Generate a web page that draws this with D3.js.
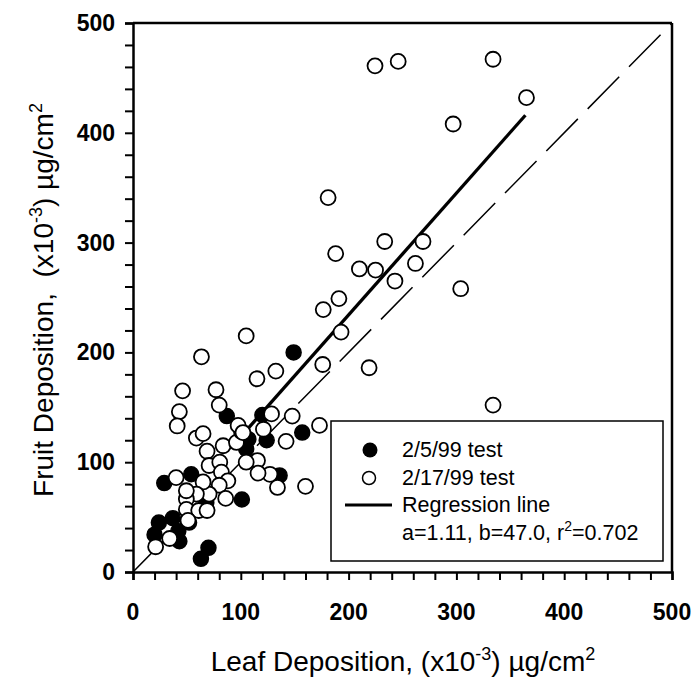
<!DOCTYPE html>
<html>
<head>
<meta charset="utf-8">
<script src="https://cdn.jsdelivr.net/npm/d3@7"></script>
<style>
  html, body { margin: 0; padding: 0; background: #fff; }
  svg text { font-family: "Liberation Sans", Arial, sans-serif; fill: #000; }
</style>
</head>
<body>
<svg id="chart" width="700" height="680"></svg>
<script>
// ---- data (leaf deposition x, fruit deposition y) ----
const test0205 = [
  [149,200],[87,142],[120,143],[157,127],[124,120],[107,121],[105,112],
  [54,89],[29,81],[136,88],[101,66],[24,45],[37,49],[20,34],[42,37],
  [43,28],[70,22],[63,12],[68,63],[52,45]
];
const test0217 = [
  [224.5,461],[246,465],[334,467],[365,432],[297,408],
  [181,341],[188,290],[233.5,301],[269,301],[210,276],[225,275],[262,281],
  [243,265],[304,258],[191,249],[176.5,239],[193,218.5],[176,189],[219,186],
  [334,152],[173,133.5],
  [105,215],[63.5,196],[46,165],[115,176],[132.5,183],[77,166],[43,146],
  [41,133],[80,152],[128.5,144],[147.7,142],[142,119],[160,78],[134,77],
  [127,89],[115.5,101.5],[116,90],[105,100],[121,130],[58.8,122],[68.7,110],
  [83.6,115],[96,118],[100.6,128],[97.5,133.5],[65,126],[102,127],
  [70.6,97],[80.5,100],[82,91],[88,83],[80,79],[70.6,71],[86,67],[65,82],
  [58.8,71],[49.5,66.5],[40,86],[49.5,74],[49.5,57],[61,56],[68.7,56],
  [51,47],[34,30.5],[21,23]
];
const regressionLine = [[107,131],[364,416]];
const oneToOneLine = [[0,0],[500,500]];
const xTicks = [0,100,200,300,400,500];
const yTicks = [0,100,200,300,400,500];
const legendItems = ["2/5/99 test","2/17/99 test","Regression line"];
const regressionText = "a=1.11, b=47.0, r";
const regressionText2 = "=0.702";

// ---- drawing ----
const svg = d3.select("#chart");
const x = d3.scaleLinear().domain([0,500]).range([133,672]);
const y = d3.scaleLinear().domain([0,500]).range([572,23]);

// 1:1 dashed line
const line = d3.line().x(d => x(d[0])).y(d => y(d[1]));
svg.append("path").datum(oneToOneLine).attr("d", line)
  .attr("fill","none").attr("stroke","#000").attr("stroke-width",1.5)
  .attr("stroke-dasharray","45,14");

// regression line
svg.append("path").datum(regressionLine).attr("d", line)
  .attr("fill","none").attr("stroke","#000").attr("stroke-width",3.3);

// points
svg.append("g").selectAll("circle").data(test0205).join("circle")
  .attr("cx", d => x(d[0])).attr("cy", d => y(d[1])).attr("r", 7.5)
  .attr("fill","#000").attr("stroke","#000").attr("stroke-width",1.5);
svg.append("g").selectAll("circle").data(test0217).join("circle")
  .attr("cx", d => x(d[0])).attr("cy", d => y(d[1])).attr("r", 7.5)
  .attr("fill","#fff").attr("stroke","#000").attr("stroke-width",1.8);

// axes
const minor = d3.range(0,501,20);
const xAxis = d3.axisBottom(x).tickValues(minor).tickSize(8).tickFormat("");
const yAxis = d3.axisLeft(y).tickValues(minor).tickSize(8).tickFormat("");
const gx = svg.append("g").attr("transform","translate(0,572)").call(xAxis);
const gy = svg.append("g").attr("transform","translate(133,0)").call(yAxis);
[gx,gy].forEach(g => {
  g.select(".domain").attr("stroke","#000").attr("stroke-width",2.5);
  g.selectAll(".tick line").attr("stroke","#000").attr("stroke-width",2);
});
// frame top and right
svg.append("line").attr("x1",x(0)).attr("x2",x(500)).attr("y1",y(500)).attr("y2",y(500))
  .attr("stroke","#000").attr("stroke-width",2.5);
svg.append("line").attr("x1",x(500)).attr("x2",x(500)).attr("y1",y(0)).attr("y2",y(500))
  .attr("stroke","#000").attr("stroke-width",2.5);

// tick labels
svg.append("g").selectAll("text").data(xTicks).join("text")
  .attr("x", d => x(d)).attr("y", 620).attr("text-anchor","middle")
  .attr("font-size",23).attr("font-weight","bold").text(d => d);
svg.append("g").selectAll("text").data(yTicks).join("text")
  .attr("x", 115).attr("y", d => y(d) + 8).attr("text-anchor","end")
  .attr("font-size",23).attr("font-weight","bold").text(d => d);

// axis titles
const xt = svg.append("text").attr("x", 403).attr("y", 671).attr("text-anchor","middle")
  .attr("font-size",28);
xt.append("tspan").text("Leaf Deposition, (x10");
xt.append("tspan").attr("dy",-11).attr("font-size",18).text("-3");
xt.append("tspan").attr("dy",11).text(") \u00b5g/cm");
xt.append("tspan").attr("dy",-11).attr("font-size",18).text("2");

const yt = svg.append("text").attr("transform","translate(53,300) rotate(-90)")
  .attr("text-anchor","middle").attr("font-size",28).style("white-space","pre");
yt.append("tspan").text("Fruit Deposition,  (x10");
yt.append("tspan").attr("dy",-11).attr("font-size",18).text("-3");
yt.append("tspan").attr("dy",11).text(") \u00b5g/cm");
yt.append("tspan").attr("dy",-11).attr("font-size",18).text("2");

// legend
const lg = svg.append("g");
lg.append("rect").attr("x",331).attr("y",421).attr("width",332).attr("height",140)
  .attr("fill","#fff").attr("stroke","#000").attr("stroke-width",1.5);
const rowY = [450, 478, 505];
lg.append("circle").attr("cx",370).attr("cy",rowY[0]).attr("r",7.5).attr("fill","#000");
lg.append("circle").attr("cx",369).attr("cy",rowY[1]).attr("r",6.5).attr("fill","#fff")
  .attr("stroke","#000").attr("stroke-width",1.5);
lg.append("line").attr("x1",345).attr("x2",392).attr("y1",rowY[2]).attr("y2",rowY[2])
  .attr("stroke","#000").attr("stroke-width",3);
lg.selectAll("text.item").data(legendItems).join("text").attr("class","item")
  .attr("x",402).attr("y",(d,i) => rowY[i] + 7).attr("font-size",21.5).text(d => d);
const rt = lg.append("text").attr("x",402).attr("y",540).attr("font-size",21.5);
rt.append("tspan").text(regressionText);
rt.append("tspan").attr("dy",-9).attr("font-size",14).text("2");
rt.append("tspan").attr("dy",9).text(regressionText2);
</script>
</body>
</html>
